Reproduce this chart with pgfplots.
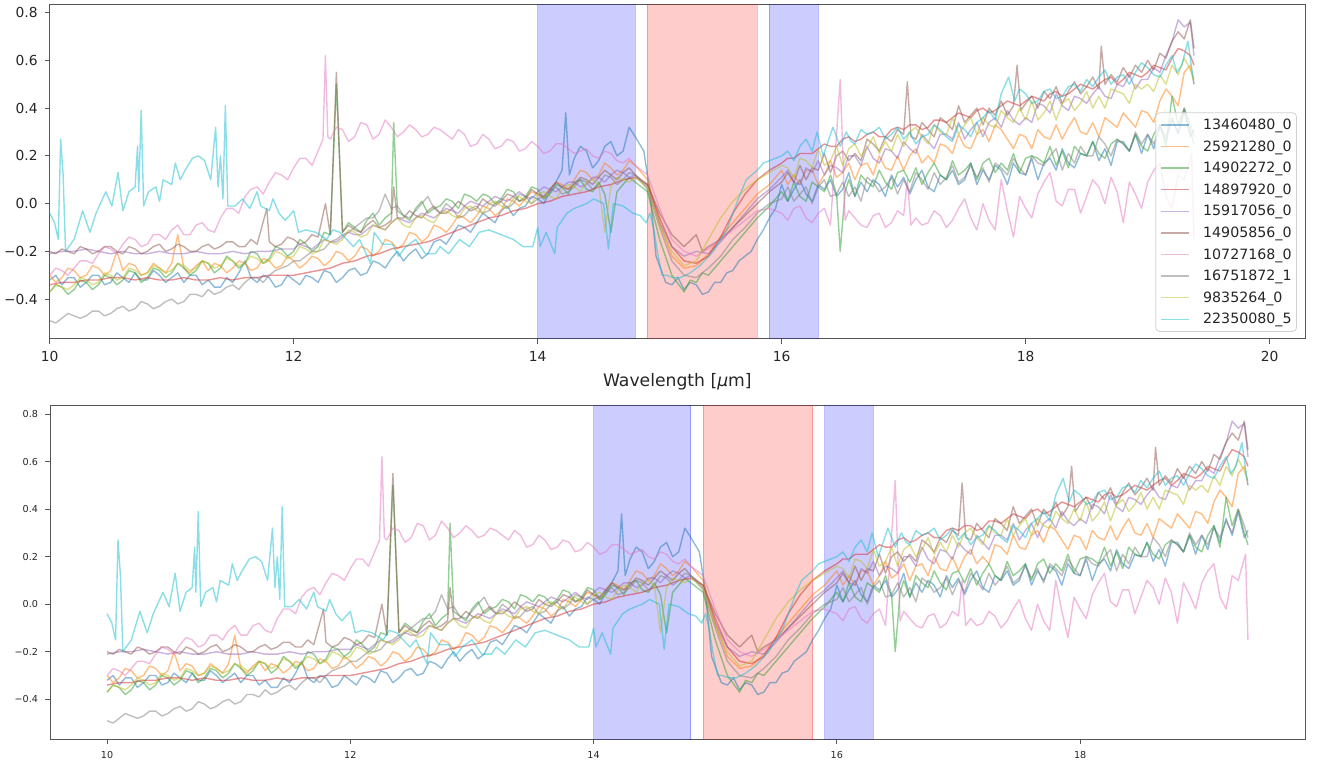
\documentclass[border=0pt]{standalone}
\usepackage{fontspec}
\setmainfont{DejaVu Sans}
\usepackage{pgfplots}
\usepackage{pgfplotstable}
\pgfplotsset{compat=1.18}
\definecolor{c0}{HTML}{1F77B4}
\definecolor{c1}{HTML}{FF7F0E}
\definecolor{c2}{HTML}{2CA02C}
\definecolor{c3}{HTML}{D62728}
\definecolor{c4}{HTML}{9467BD}
\definecolor{c5}{HTML}{8C564B}
\definecolor{c6}{HTML}{E377C2}
\definecolor{c7}{HTML}{7F7F7F}
\definecolor{c8}{HTML}{BCBD22}
\definecolor{c9}{HTML}{17BECF}
\definecolor{spine}{HTML}{555555}

% 13460480_0
\pgfplotstableread[row sep=\\]{x y\\
10.0 -0.32\\10.05 -0.30\\10.1 -0.34\\10.15 -0.31\\10.2 -0.31\\10.25 -0.35\\10.3 -0.33\\10.35 -0.30\\10.4 -0.30\\10.45 -0.34\\10.5 -0.33\\10.55 -0.29\\10.6 -0.31\\10.65 -0.33\\10.7 -0.29\\10.75 -0.32\\10.8 -0.32\\10.85 -0.28\\10.9 -0.30\\10.95 -0.33\\
11.0 -0.31\\11.05 -0.29\\11.1 -0.33\\11.15 -0.30\\11.2 -0.30\\11.25 -0.34\\11.3 -0.32\\11.35 -0.35\\11.4 -0.35\\11.45 -0.31\\11.5 -0.33\\11.55 -0.29\\11.6 -0.24\\11.65 -0.31\\11.7 -0.33\\11.75 -0.30\\11.8 -0.31\\11.85 -0.35\\11.9 -0.34\\11.95 -0.30\\
12.0 -0.32\\12.05 -0.34\\12.1 -0.30\\12.15 -0.31\\12.2 -0.33\\12.25 -0.28\\12.3 -0.29\\12.35 -0.33\\12.4 -0.31\\12.45 -0.28\\12.5 -0.27\\12.55 -0.30\\12.6 -0.29\\12.65 -0.24\\12.7 -0.25\\12.75 -0.27\\12.8 -0.23\\12.85 -0.20\\12.9 -0.24\\12.95 -0.21\\
13.0 -0.19\\13.05 -0.23\\13.1 -0.21\\13.15 -0.16\\13.2 -0.15\\13.25 -0.17\\13.3 -0.13\\13.35 -0.09\\13.4 -0.10\\13.45 -0.12\\13.5 -0.08\\13.55 -0.04\\13.6 -0.06\\13.65 -0.08\\13.7 -0.03\\13.75 -0.01\\13.8 -0.05\\13.85 -0.02\\13.9 -0.01\\13.95 0.03\\
14.0 0.02\\14.05 0.00\\14.1 0.05\\14.15 0.09\\14.2 0.14\\14.23 0.38\\14.26 0.12\\14.3 0.19\\14.35 0.24\\14.4 0.22\\14.45 0.15\\14.5 0.18\\14.55 0.24\\14.6 0.26\\14.65 0.20\\14.7 0.22\\14.75 0.32\\14.8 0.28\\14.87 0.22\\14.92 0.05\\
14.97 -0.22\\15.05 -0.33\\15.1 -0.34\\15.15 -0.31\\15.2 -0.36\\15.25 -0.33\\15.3 -0.34\\15.35 -0.38\\15.4 -0.37\\15.45 -0.33\\15.5 -0.33\\15.55 -0.29\\15.6 -0.28\\15.65 -0.24\\15.7 -0.22\\15.75 -0.20\\15.8 -0.15\\15.85 -0.11\\15.9 -0.06\\15.95 -0.02\\
16.0 0.08\\16.05 0.01\\16.1 0.06\\16.15 0.10\\16.2 0.04\\16.25 0.01\\16.3 0.08\\16.35 0.06\\16.4 0.10\\16.45 0.03\\16.5 0.06\\16.55 0.13\\16.6 0.03\\16.65 0.09\\16.7 0.05\\16.75 0.10\\16.8 0.08\\16.85 0.03\\16.9 0.12\\16.95 0.07\\
17.0 0.11\\17.05 0.04\\17.1 0.10\\17.15 0.14\\17.2 0.07\\17.25 0.05\\17.3 0.12\\17.35 0.10\\17.4 0.14\\17.45 0.08\\17.5 0.10\\17.55 0.17\\17.6 0.08\\17.65 0.14\\17.7 0.10\\17.75 0.16\\17.8 0.14\\17.85 0.08\\17.9 0.17\\17.95 0.13\\
18.0 0.12\\18.05 0.19\\18.1 0.10\\18.15 0.17\\18.2 0.19\\18.25 0.14\\18.3 0.23\\18.35 0.17\\18.4 0.15\\18.45 0.21\\18.5 0.20\\18.55 0.26\\18.6 0.18\\18.65 0.23\\18.7 0.16\\18.75 0.26\\18.8 0.26\\18.85 0.22\\18.9 0.29\\18.95 0.21\\
19.0 0.29\\19.05 0.23\\19.1 0.33\\19.15 0.26\\19.2 0.36\\19.25 0.29\\19.3 0.39\\19.35 0.28\\19.38 0.31\\
}\tA
% 25921280_0
\pgfplotstableread[row sep=\\]{x y\\
10.0 -0.30\\10.05 -0.33\\10.1 -0.31\\10.15 -0.27\\10.2 -0.28\\10.25 -0.31\\10.3 -0.30\\10.35 -0.26\\10.4 -0.27\\10.45 -0.30\\10.5 -0.28\\10.55 -0.20\\10.6 -0.28\\10.65 -0.25\\10.7 -0.26\\10.75 -0.30\\10.8 -0.29\\10.85 -0.25\\10.9 -0.27\\10.95 -0.29\\
11.0 -0.25\\11.05 -0.13\\11.1 -0.27\\11.15 -0.29\\11.2 -0.26\\11.25 -0.24\\11.3 -0.28\\11.35 -0.25\\11.4 -0.26\\11.45 -0.29\\11.5 -0.27\\11.55 -0.24\\11.6 -0.25\\11.65 -0.28\\11.7 -0.27\\11.75 -0.23\\11.8 -0.24\\11.85 -0.27\\11.9 -0.26\\11.95 -0.22\\
12.0 -0.24\\12.05 -0.27\\12.1 -0.25\\12.15 -0.22\\12.2 -0.23\\12.25 -0.26\\12.3 -0.24\\12.35 -0.20\\12.4 -0.21\\12.45 -0.24\\12.5 -0.22\\12.55 -0.18\\12.6 -0.19\\12.65 -0.22\\12.7 -0.20\\12.75 -0.15\\12.8 -0.16\\12.85 -0.19\\12.9 -0.17\\12.95 -0.12\\
13.0 -0.13\\13.05 -0.16\\13.1 -0.14\\13.15 -0.09\\13.2 -0.10\\13.25 -0.12\\13.3 -0.09\\13.35 -0.05\\13.4 -0.06\\13.45 -0.08\\13.5 -0.05\\13.55 -0.01\\13.6 -0.02\\13.65 -0.05\\13.7 -0.03\\13.75 0.02\\13.8 0.01\\13.85 -0.01\\13.9 0.02\\13.95 0.05\\
14.0 0.04\\14.05 0.02\\14.1 0.06\\14.15 0.09\\14.2 0.08\\14.25 0.06\\14.3 0.10\\14.35 0.14\\14.4 0.13\\14.45 0.10\\14.5 0.12\\14.55 0.17\\14.6 0.15\\14.65 0.12\\14.7 0.14\\14.75 0.18\\14.8 0.16\\14.9 0.10\\
15.0 -0.08\\15.1 -0.22\\15.2 -0.27\\15.3 -0.26\\15.4 -0.21\\15.5 -0.14\\15.6 -0.08\\15.7 -0.02\\15.8 0.04\\15.9 0.08\\
16.0 0.14\\16.05 0.08\\16.1 0.12\\16.15 0.08\\16.2 0.14\\16.25 0.14\\16.3 0.08\\16.35 0.12\\16.4 0.18\\16.45 0.11\\16.5 0.13\\16.55 0.17\\16.6 0.10\\16.65 0.16\\16.7 0.17\\16.75 0.12\\16.8 0.20\\16.85 0.15\\16.9 0.14\\16.95 0.20\\
17.0 0.14\\17.05 0.20\\17.1 0.23\\17.15 0.17\\17.2 0.20\\17.25 0.17\\17.3 0.25\\17.35 0.24\\17.4 0.21\\17.45 0.29\\17.5 0.24\\17.55 0.23\\17.6 0.29\\17.65 0.31\\17.7 0.26\\17.75 0.33\\17.8 0.31\\17.85 0.27\\17.9 0.23\\17.95 0.29\\
18.0 0.28\\18.05 0.23\\18.1 0.31\\18.15 0.28\\18.2 0.27\\18.25 0.33\\18.3 0.27\\18.35 0.32\\18.4 0.36\\18.45 0.30\\18.5 0.29\\18.55 0.34\\18.6 0.28\\18.65 0.36\\18.7 0.34\\18.75 0.32\\18.8 0.38\\18.85 0.35\\18.9 0.32\\18.95 0.39\\
19.0 0.38\\19.05 0.34\\19.1 0.43\\19.15 0.48\\19.2 0.45\\19.25 0.41\\19.3 0.55\\19.35 0.58\\19.38 0.50\\
}\tB
% 14902272_0
\pgfplotstableread[row sep=\\]{x y\\
10.0 -0.37\\10.05 -0.34\\10.1 -0.35\\10.15 -0.38\\10.2 -0.36\\10.25 -0.32\\10.3 -0.33\\10.35 -0.36\\10.4 -0.34\\10.45 -0.30\\10.5 -0.31\\10.55 -0.34\\10.6 -0.32\\10.65 -0.28\\10.7 -0.29\\10.75 -0.33\\10.8 -0.31\\10.85 -0.27\\10.9 -0.28\\10.95 -0.31\\
11.0 -0.29\\11.05 -0.25\\11.1 -0.27\\11.15 -0.30\\11.2 -0.28\\11.25 -0.24\\11.3 -0.25\\11.35 -0.29\\11.4 -0.27\\11.45 -0.22\\11.5 -0.24\\11.55 -0.27\\11.6 -0.25\\11.65 -0.20\\11.7 -0.21\\11.75 -0.25\\11.8 -0.23\\11.85 -0.18\\11.9 -0.19\\11.95 -0.22\\
12.0 -0.20\\12.05 -0.15\\12.1 -0.17\\12.15 -0.20\\12.2 -0.18\\12.25 -0.12\\12.3 -0.13\\12.35 0.50\\12.4 -0.12\\12.45 -0.08\\12.5 -0.10\\12.55 -0.12\\12.6 -0.07\\12.65 -0.04\\12.7 -0.09\\12.75 -0.06\\12.8 -0.04\\12.82 0.34\\12.85 -0.03\\12.9 -0.05\\12.95 -0.07\\
13.0 -0.02\\13.05 0.01\\13.1 -0.04\\13.15 -0.02\\13.2 -0.01\\13.25 0.02\\13.3 0.01\\13.35 -0.02\\13.4 0.04\\13.45 0.03\\13.5 0.01\\13.55 0.04\\13.6 0.03\\13.65 0.00\\13.7 0.02\\13.75 0.06\\13.8 0.05\\13.85 0.01\\13.9 0.03\\13.95 0.07\\
14.0 0.06\\14.05 0.02\\14.1 0.04\\14.15 0.08\\14.2 0.07\\14.25 0.04\\14.3 0.09\\14.35 0.10\\14.4 0.06\\14.45 0.05\\14.5 0.09\\14.55 0.04\\14.6 -0.12\\14.65 0.05\\14.7 0.08\\14.75 0.11\\14.8 0.09\\14.9 0.05\\
15.0 -0.15\\15.1 -0.30\\15.2 -0.37\\15.25 -0.32\\15.3 -0.33\\15.35 -0.29\\15.4 -0.30\\15.5 -0.24\\15.6 -0.18\\15.7 -0.12\\15.8 -0.06\\15.9 -0.01\\
16.0 0.05\\16.05 0.01\\16.1 0.09\\16.15 0.03\\16.2 0.01\\16.25 0.09\\16.3 0.07\\16.35 0.05\\16.4 0.12\\16.45 0.04\\16.48 -0.20\\16.52 0.05\\16.55 0.10\\16.6 0.03\\16.65 0.12\\16.7 0.09\\16.75 0.07\\16.8 0.14\\16.85 0.09\\16.9 0.06\\16.95 0.13\\
17.0 0.14\\17.05 0.09\\17.1 0.15\\17.15 0.08\\17.2 0.13\\17.25 0.17\\17.3 0.12\\17.35 0.10\\17.4 0.18\\17.45 0.12\\17.5 0.14\\17.55 0.17\\17.6 0.10\\17.65 0.17\\17.7 0.19\\17.75 0.13\\17.8 0.17\\17.85 0.14\\17.9 0.21\\17.95 0.13\\
18.0 0.19\\18.05 0.20\\18.1 0.19\\18.15 0.17\\18.2 0.24\\18.25 0.16\\18.3 0.22\\18.35 0.15\\18.4 0.24\\18.45 0.21\\18.5 0.20\\18.55 0.26\\18.6 0.21\\18.65 0.19\\18.7 0.25\\18.75 0.27\\18.8 0.25\\18.85 0.22\\18.9 0.29\\18.95 0.24\\
19.0 0.22\\19.05 0.29\\19.1 0.33\\19.15 0.24\\19.2 0.45\\19.25 0.33\\19.3 0.40\\19.35 0.30\\19.38 0.25\\
}\tC
% 14897920_0
\pgfplotstableread[row sep=\\]{x y\\
10.0 -0.34\\10.1 -0.33\\10.2 -0.33\\10.3 -0.32\\10.4 -0.32\\10.5 -0.31\\10.6 -0.31\\10.7 -0.32\\10.8 -0.31\\10.9 -0.32\\
11.0 -0.32\\11.1 -0.31\\11.2 -0.32\\11.3 -0.32\\11.4 -0.31\\11.5 -0.32\\11.6 -0.31\\11.7 -0.31\\11.8 -0.30\\11.9 -0.30\\
12.0 -0.30\\12.1 -0.29\\12.2 -0.28\\12.3 -0.27\\12.4 -0.25\\12.5 -0.24\\12.6 -0.22\\12.7 -0.21\\12.8 -0.19\\12.9 -0.18\\
13.0 -0.17\\13.1 -0.16\\13.2 -0.14\\13.3 -0.12\\13.4 -0.10\\13.5 -0.08\\13.6 -0.06\\13.7 -0.05\\13.8 -0.03\\13.9 -0.02\\
14.0 0.00\\14.1 0.01\\14.2 0.03\\14.3 0.04\\14.4 0.05\\14.5 0.07\\14.6 0.08\\14.7 0.10\\14.8 0.11\\14.9 0.08\\
15.0 -0.06\\15.1 -0.18\\15.2 -0.24\\15.3 -0.25\\15.4 -0.22\\15.5 -0.14\\15.6 -0.04\\15.7 0.04\\15.8 0.10\\15.9 0.14\\
16.0 0.17\\16.05 0.19\\16.1 0.19\\16.15 0.21\\16.2 0.21\\16.25 0.21\\16.3 0.23\\16.35 0.25\\16.4 0.24\\16.45 0.24\\16.5 0.27\\16.55 0.28\\16.6 0.26\\16.65 0.27\\16.7 0.29\\16.75 0.30\\16.8 0.28\\16.85 0.28\\16.9 0.31\\16.95 0.32\\
17.0 0.31\\17.05 0.33\\17.1 0.33\\17.15 0.31\\17.2 0.32\\17.25 0.35\\17.3 0.35\\17.35 0.34\\17.4 0.36\\17.45 0.38\\17.5 0.37\\17.55 0.36\\17.6 0.39\\17.65 0.40\\17.7 0.38\\17.75 0.39\\17.8 0.41\\17.85 0.43\\17.9 0.42\\17.95 0.41\\
18.0 0.43\\18.05 0.45\\18.1 0.44\\18.15 0.43\\18.2 0.46\\18.25 0.47\\18.3 0.45\\18.35 0.46\\18.4 0.48\\18.45 0.50\\18.5 0.49\\18.55 0.48\\18.6 0.50\\18.65 0.52\\18.7 0.53\\18.75 0.50\\18.8 0.52\\18.85 0.55\\18.9 0.54\\18.95 0.53\\
19.0 0.55\\19.05 0.58\\19.1 0.57\\19.15 0.56\\19.2 0.61\\19.25 0.65\\19.3 0.64\\19.35 0.62\\19.38 0.58\\
}\tD
% 15917056_0
\pgfplotstableread[row sep=\\]{x y\\
10.0 -0.21\\10.1 -0.20\\10.2 -0.20\\10.3 -0.19\\10.4 -0.20\\10.5 -0.21\\10.6 -0.20\\10.7 -0.21\\10.8 -0.21\\10.9 -0.20\\
11.0 -0.21\\11.1 -0.21\\11.2 -0.20\\11.3 -0.21\\11.4 -0.21\\11.5 -0.20\\11.6 -0.21\\11.7 -0.20\\11.8 -0.20\\11.9 -0.19\\
12.0 -0.19\\12.05 -0.17\\12.1 -0.18\\12.15 -0.19\\12.2 -0.17\\12.25 -0.15\\12.3 -0.16\\12.35 -0.16\\12.4 -0.14\\12.45 -0.12\\12.5 -0.13\\12.55 -0.13\\12.6 -0.11\\12.65 -0.09\\12.7 -0.10\\12.75 -0.11\\12.8 -0.08\\12.85 -0.06\\12.9 -0.07\\12.95 -0.08\\
13.0 -0.06\\13.05 -0.04\\13.1 -0.05\\13.15 -0.06\\13.2 -0.04\\13.25 -0.02\\13.3 -0.03\\13.35 -0.04\\13.4 -0.01\\13.45 0.01\\13.5 0.00\\13.55 -0.01\\13.6 0.01\\13.65 0.03\\13.7 0.02\\13.75 0.01\\13.8 0.03\\13.85 0.05\\13.9 0.03\\13.95 0.02\\
14.0 0.05\\14.05 0.07\\14.1 0.06\\14.15 0.05\\14.2 0.07\\14.25 0.09\\14.3 0.09\\14.35 0.07\\14.4 0.08\\14.45 0.11\\14.5 0.11\\14.55 0.09\\14.6 0.12\\14.65 0.14\\14.7 0.13\\14.75 0.11\\14.8 0.12\\14.9 0.07\\
15.0 -0.08\\15.1 -0.18\\15.2 -0.22\\15.3 -0.20\\15.4 -0.21\\15.5 -0.16\\15.6 -0.10\\15.7 -0.04\\15.8 0.02\\15.9 0.06\\
16.0 0.11\\16.05 0.14\\16.1 0.09\\16.15 0.08\\16.2 0.15\\16.25 0.13\\16.3 0.18\\16.35 0.12\\16.4 0.16\\16.45 0.15\\16.5 0.13\\16.55 0.20\\16.6 0.20\\16.65 0.16\\16.7 0.24\\16.75 0.19\\16.8 0.17\\16.85 0.23\\16.9 0.22\\16.95 0.19\\
17.0 0.26\\17.05 0.23\\17.1 0.21\\17.15 0.29\\17.2 0.26\\17.25 0.23\\17.3 0.29\\17.35 0.29\\17.4 0.27\\17.45 0.34\\17.5 0.27\\17.55 0.31\\17.6 0.34\\17.65 0.28\\17.7 0.34\\17.75 0.36\\17.8 0.32\\17.85 0.39\\17.9 0.35\\17.95 0.33\\
18.0 0.36\\18.05 0.34\\18.1 0.42\\18.15 0.41\\18.2 0.38\\18.25 0.46\\18.3 0.41\\18.35 0.39\\18.4 0.45\\18.45 0.44\\18.5 0.42\\18.55 0.46\\18.6 0.49\\18.65 0.45\\18.7 0.44\\18.75 0.50\\18.8 0.49\\18.85 0.54\\18.9 0.48\\18.95 0.52\\
19.0 0.52\\19.05 0.57\\19.1 0.55\\19.15 0.62\\19.2 0.68\\19.25 0.77\\19.3 0.74\\19.35 0.76\\19.38 0.62\\
}\tE
% 14905856_0
\pgfplotstableread[row sep=\\]{x y\\
10.0 -0.20\\10.05 -0.21\\10.1 -0.19\\10.15 -0.20\\10.2 -0.21\\10.25 -0.18\\10.3 -0.19\\10.35 -0.21\\10.4 -0.20\\10.45 -0.18\\10.5 -0.18\\10.55 -0.20\\10.6 -0.21\\10.65 -0.18\\10.7 -0.19\\10.75 -0.21\\10.8 -0.20\\10.85 -0.18\\10.9 -0.17\\10.95 -0.20\\
11.0 -0.19\\11.05 -0.17\\11.1 -0.18\\11.15 -0.20\\11.2 -0.20\\11.25 -0.18\\11.3 -0.17\\11.35 -0.19\\11.4 -0.18\\11.45 -0.16\\11.5 -0.16\\11.55 -0.18\\11.6 -0.18\\11.65 -0.15\\11.7 -0.17\\11.78 -0.02\\11.8 -0.16\\11.85 -0.18\\11.9 -0.17\\11.95 -0.14\\
12.0 -0.15\\12.05 -0.17\\12.1 -0.16\\12.15 -0.13\\12.2 -0.14\\12.26 0.00\\12.3 -0.13\\12.35 0.55\\12.4 -0.12\\12.45 -0.09\\12.5 -0.11\\12.55 -0.12\\12.6 -0.09\\12.65 -0.07\\12.7 -0.10\\12.75 -0.09\\12.8 -0.07\\12.82 0.07\\12.85 -0.06\\12.9 -0.06\\12.95 -0.03\\
13.0 -0.05\\13.05 -0.06\\13.1 -0.03\\13.15 -0.01\\13.2 -0.04\\13.25 -0.04\\13.3 -0.02\\13.35 0.01\\13.4 -0.01\\13.45 -0.03\\13.5 -0.02\\13.55 0.02\\13.6 0.00\\13.65 -0.01\\13.7 0.01\\13.75 0.04\\13.8 0.03\\13.85 0.01\\13.9 0.02\\13.95 0.06\\
14.0 0.04\\14.05 0.03\\14.1 0.06\\14.15 0.09\\14.2 0.07\\14.25 0.06\\14.3 0.08\\14.35 0.11\\14.4 0.10\\14.45 0.08\\14.5 0.11\\14.55 0.14\\14.6 0.12\\14.65 0.10\\14.7 0.13\\14.75 0.15\\14.8 0.12\\14.9 0.08\\
15.0 -0.04\\15.1 -0.13\\15.2 -0.18\\15.3 -0.13\\15.35 -0.20\\15.4 -0.18\\15.5 -0.15\\15.6 -0.10\\15.7 -0.05\\15.8 0.00\\15.9 0.05\\
16.0 0.09\\16.05 0.13\\16.1 0.09\\16.15 0.16\\16.2 0.10\\16.25 0.15\\16.3 0.14\\16.35 0.21\\16.4 0.13\\16.45 0.20\\16.5 0.22\\16.55 0.18\\16.6 0.21\\16.65 0.18\\16.7 0.27\\16.75 0.25\\16.8 0.22\\16.85 0.28\\16.9 0.26\\16.95 0.31\\
17.0 0.29\\17.03 0.51\\17.06 0.28\\17.1 0.27\\17.15 0.34\\17.2 0.31\\17.25 0.28\\17.3 0.36\\17.35 0.34\\17.4 0.31\\17.45 0.41\\17.5 0.34\\17.55 0.37\\17.6 0.40\\17.65 0.33\\17.7 0.40\\17.75 0.37\\17.8 0.43\\17.85 0.37\\17.9 0.41\\17.93 0.58\\17.96 0.39\\
18.0 0.42\\18.05 0.45\\18.1 0.40\\18.15 0.47\\18.2 0.44\\18.25 0.49\\18.3 0.42\\18.35 0.47\\18.4 0.51\\18.45 0.46\\18.5 0.49\\18.55 0.53\\18.6 0.48\\18.62 0.66\\18.65 0.50\\18.7 0.54\\18.75 0.51\\18.8 0.57\\18.85 0.53\\18.9 0.58\\18.95 0.55\\
19.0 0.60\\19.05 0.56\\19.1 0.63\\19.15 0.61\\19.2 0.68\\19.25 0.72\\19.3 0.69\\19.35 0.77\\19.38 0.65\\
}\tF
% 10727168_0
\pgfplotstableread[row sep=\\]{x y\\
10.0 -0.30\\10.05 -0.27\\10.1 -0.28\\10.15 -0.30\\10.2 -0.27\\10.25 -0.24\\10.3 -0.24\\10.35 -0.25\\10.4 -0.21\\10.45 -0.18\\10.5 -0.19\\10.55 -0.21\\10.6 -0.17\\10.65 -0.14\\10.7 -0.15\\10.75 -0.18\\10.8 -0.17\\10.85 -0.13\\10.9 -0.13\\10.95 -0.15\\
11.0 -0.11\\11.05 -0.09\\11.1 -0.13\\11.15 -0.13\\11.2 -0.09\\11.25 -0.08\\11.3 -0.11\\11.35 -0.12\\11.4 -0.06\\11.45 -0.02\\11.5 -0.02\\11.55 -0.04\\11.6 0.03\\11.65 0.06\\11.7 0.07\\11.75 0.04\\11.8 0.09\\11.85 0.13\\11.9 0.12\\11.95 0.10\\
12.0 0.15\\12.05 0.19\\12.1 0.19\\12.15 0.16\\12.2 0.22\\12.24 0.27\\12.26 0.62\\12.28 0.28\\12.3 0.27\\12.35 0.32\\12.4 0.31\\12.45 0.26\\12.5 0.28\\12.55 0.34\\12.6 0.33\\12.65 0.27\\12.7 0.29\\12.75 0.35\\12.8 0.32\\12.85 0.28\\12.9 0.30\\12.95 0.33\\
13.0 0.31\\13.05 0.28\\13.1 0.29\\13.15 0.32\\13.2 0.31\\13.25 0.29\\13.3 0.27\\13.35 0.31\\13.4 0.29\\13.45 0.24\\13.5 0.25\\13.55 0.29\\13.6 0.27\\13.65 0.23\\13.7 0.24\\13.75 0.27\\13.8 0.26\\13.85 0.22\\13.9 0.23\\13.95 0.26\\
14.0 0.24\\14.05 0.21\\14.1 0.22\\14.15 0.25\\14.2 0.25\\14.25 0.23\\14.3 0.21\\14.35 0.22\\14.4 0.23\\14.45 0.20\\14.5 0.19\\14.55 0.22\\14.6 0.21\\14.65 0.18\\14.7 0.17\\14.75 0.19\\14.8 0.16\\14.85 0.14\\14.9 0.12\\
15.0 -0.02\\15.1 -0.15\\15.2 -0.20\\15.3 -0.22\\15.4 -0.19\\15.5 -0.15\\15.6 -0.11\\15.7 -0.07\\15.8 -0.03\\15.9 -0.02\\
16.0 -0.04\\16.05 -0.07\\16.1 -0.02\\16.15 -0.01\\16.2 -0.06\\16.25 -0.08\\16.3 -0.04\\16.35 -0.02\\16.4 -0.09\\16.48 0.52\\16.52 -0.07\\16.55 -0.03\\16.6 -0.06\\16.65 -0.09\\16.7 -0.10\\16.75 -0.05\\16.8 -0.04\\16.85 -0.10\\16.9 -0.08\\16.95 -0.03\\
17.0 -0.05\\17.03 0.10\\17.06 -0.09\\17.1 -0.06\\17.15 -0.09\\17.2 -0.08\\17.25 -0.03\\17.3 -0.05\\17.35 -0.10\\17.4 -0.07\\17.45 -0.02\\17.5 0.02\\17.55 -0.06\\17.6 -0.11\\17.65 0.00\\17.7 -0.07\\17.75 -0.11\\17.8 0.10\\17.85 -0.03\\17.9 -0.14\\17.95 0.03\\
18.0 -0.02\\18.05 -0.06\\18.1 0.04\\18.15 0.09\\18.2 0.13\\18.25 0.01\\18.3 -0.01\\18.35 0.06\\18.4 0.06\\18.45 -0.04\\18.5 0.03\\18.55 0.10\\18.6 0.07\\18.65 0.00\\18.7 0.11\\18.75 0.05\\18.8 -0.08\\18.85 0.09\\18.9 0.04\\18.95 -0.02\\
19.0 0.09\\19.05 0.14\\19.1 0.17\\19.15 0.03\\19.2 -0.02\\19.25 0.12\\19.3 0.10\\19.36 0.21\\19.38 -0.15\\
}\tG
% 16751872_1
\pgfplotstableread[row sep=\\]{x y\\
10.0 -0.49\\10.05 -0.50\\10.1 -0.48\\10.15 -0.46\\10.2 -0.47\\10.25 -0.48\\10.3 -0.47\\10.35 -0.45\\10.4 -0.45\\10.45 -0.47\\10.5 -0.46\\10.55 -0.44\\10.6 -0.43\\10.65 -0.45\\10.7 -0.44\\10.75 -0.41\\10.8 -0.42\\10.85 -0.44\\10.9 -0.43\\10.95 -0.41\\
11.0 -0.40\\11.05 -0.42\\11.1 -0.41\\11.15 -0.38\\11.2 -0.38\\11.25 -0.39\\11.3 -0.36\\11.35 -0.38\\11.4 -0.37\\11.45 -0.35\\11.5 -0.34\\11.55 -0.36\\11.6 -0.33\\11.65 -0.31\\11.7 -0.31\\11.75 -0.33\\11.8 -0.30\\11.85 -0.28\\11.9 -0.27\\11.95 -0.26\\
12.0 -0.24\\12.05 -0.24\\12.1 -0.22\\12.15 -0.20\\12.2 -0.20\\12.25 -0.19\\12.3 -0.16\\12.35 -0.15\\12.4 -0.13\\12.45 -0.12\\12.5 -0.10\\12.55 -0.08\\12.6 -0.06\\12.65 -0.06\\12.7 -0.03\\12.75 0.04\\12.8 -0.02\\12.85 -0.01\\12.9 -0.05\\12.95 -0.06\\
13.0 -0.03\\13.05 0.00\\13.1 0.03\\13.15 -0.02\\13.2 -0.04\\13.25 0.00\\13.3 -0.02\\13.35 -0.06\\13.4 -0.05\\13.45 -0.02\\13.5 -0.01\\13.55 -0.04\\13.6 -0.03\\13.65 0.00\\13.7 0.01\\13.75 -0.02\\13.8 0.00\\13.85 0.04\\13.9 0.03\\13.95 0.00\\
14.0 0.02\\14.05 0.03\\14.1 0.05\\14.15 0.07\\14.2 0.04\\14.25 0.05\\14.3 0.07\\14.35 0.10\\14.4 0.09\\14.45 0.06\\14.5 0.08\\14.55 0.12\\14.6 0.11\\14.65 0.08\\14.7 0.10\\14.75 0.13\\14.8 0.12\\14.9 0.06\\
15.0 -0.10\\15.1 -0.24\\15.2 -0.30\\15.3 -0.31\\15.4 -0.27\\15.5 -0.22\\15.6 -0.15\\15.7 -0.10\\15.8 -0.04\\15.9 0.00\\
16.0 0.02\\16.05 0.07\\16.1 0.01\\16.15 0.04\\16.2 0.07\\16.25 0.00\\16.3 0.07\\16.35 0.10\\16.4 0.03\\16.45 0.04\\16.5 0.09\\16.55 0.03\\16.6 0.07\\16.65 0.01\\16.7 0.11\\16.75 0.09\\16.8 0.05\\16.85 0.07\\16.9 0.11\\16.95 0.04\\
17.0 0.10\\17.05 0.05\\17.1 0.13\\17.15 0.10\\17.2 0.06\\17.25 0.13\\17.3 0.08\\17.35 0.11\\17.4 0.16\\17.45 0.09\\17.5 0.11\\17.55 0.16\\17.6 0.11\\17.65 0.15\\17.7 0.09\\17.75 0.17\\17.8 0.15\\17.85 0.12\\17.9 0.19\\17.95 0.15\\
18.0 0.12\\18.05 0.20\\18.1 0.17\\18.15 0.16\\18.2 0.20\\18.25 0.23\\18.3 0.14\\18.35 0.21\\18.4 0.17\\18.45 0.24\\18.5 0.20\\18.55 0.20\\18.6 0.28\\18.65 0.25\\18.7 0.20\\18.75 0.27\\18.8 0.25\\18.85 0.22\\18.9 0.30\\18.95 0.25\\
19.0 0.29\\19.05 0.25\\19.1 0.32\\19.15 0.28\\19.2 0.35\\19.25 0.30\\19.3 0.40\\19.35 0.33\\19.38 0.28\\
}\tH
% 9835264_0
\pgfplotstableread[row sep=\\]{x y\\
10.0 -0.37\\10.05 -0.34\\10.1 -0.35\\10.15 -0.36\\10.2 -0.34\\10.25 -0.31\\10.3 -0.32\\10.35 -0.34\\10.4 -0.33\\10.45 -0.29\\10.5 -0.30\\10.55 -0.32\\10.6 -0.31\\10.65 -0.27\\10.7 -0.28\\10.75 -0.30\\10.8 -0.29\\10.85 -0.26\\10.9 -0.27\\10.95 -0.29\\
11.0 -0.28\\11.05 -0.25\\11.1 -0.26\\11.15 -0.28\\11.2 -0.27\\11.25 -0.24\\11.3 -0.25\\11.35 -0.27\\11.4 -0.26\\11.45 -0.23\\11.5 -0.24\\11.55 -0.26\\11.6 -0.25\\11.65 -0.22\\11.7 -0.23\\11.75 -0.25\\11.8 -0.24\\11.85 -0.20\\11.9 -0.21\\11.95 -0.23\\
12.0 -0.22\\12.05 -0.18\\12.1 -0.19\\12.15 -0.21\\12.2 -0.20\\12.25 -0.15\\12.3 -0.16\\12.35 -0.17\\12.4 -0.15\\12.45 -0.11\\12.5 -0.12\\12.55 -0.14\\12.6 -0.13\\12.65 -0.09\\12.7 -0.10\\12.75 -0.11\\12.8 -0.08\\12.85 -0.06\\12.9 -0.09\\12.95 -0.10\\
13.0 -0.06\\13.05 -0.05\\13.1 -0.07\\13.15 -0.08\\13.2 -0.04\\13.25 -0.03\\13.3 -0.05\\13.35 -0.06\\13.4 -0.02\\13.45 -0.01\\13.5 -0.03\\13.55 -0.04\\13.6 0.00\\13.65 0.01\\13.7 -0.01\\13.75 -0.02\\13.8 0.02\\13.85 0.03\\13.9 0.01\\13.95 0.00\\
14.0 0.04\\14.05 0.05\\14.1 0.03\\14.15 0.02\\14.2 0.06\\14.25 0.08\\14.3 0.07\\14.35 0.05\\14.4 0.09\\14.45 0.10\\14.5 0.08\\14.55 -0.12\\14.6 0.07\\14.65 0.11\\14.7 0.10\\14.75 0.09\\14.8 0.11\\14.9 0.07\\
15.0 -0.09\\15.1 -0.20\\15.2 -0.26\\15.3 -0.24\\15.4 -0.15\\15.5 -0.06\\15.6 0.01\\15.7 0.06\\15.8 0.10\\15.9 0.13\\
16.0 0.16\\16.05 0.15\\16.1 0.11\\16.15 0.19\\16.2 0.18\\16.25 0.15\\16.3 0.23\\16.35 0.16\\16.4 0.18\\16.45 0.24\\16.5 0.16\\16.55 0.23\\16.6 0.25\\16.65 0.20\\16.7 0.23\\16.75 0.28\\16.8 0.21\\16.85 0.26\\16.9 0.22\\16.95 0.29\\
17.0 0.24\\17.05 0.30\\17.1 0.32\\17.15 0.28\\17.2 0.25\\17.25 0.33\\17.3 0.30\\17.35 0.29\\17.4 0.36\\17.45 0.29\\17.5 0.33\\17.55 0.36\\17.6 0.29\\17.65 0.36\\17.7 0.33\\17.75 0.32\\17.8 0.39\\17.85 0.36\\17.9 0.34\\17.95 0.40\\
18.0 0.35\\18.05 0.43\\18.1 0.35\\18.15 0.38\\18.2 0.43\\18.25 0.35\\18.3 0.42\\18.35 0.44\\18.4 0.39\\18.45 0.42\\18.5 0.47\\18.55 0.40\\18.6 0.45\\18.65 0.40\\18.7 0.48\\18.75 0.47\\18.8 0.46\\18.85 0.42\\18.9 0.50\\18.95 0.48\\
19.0 0.50\\19.05 0.47\\19.1 0.54\\19.15 0.50\\19.2 0.58\\19.25 0.54\\19.3 0.61\\19.35 0.56\\19.38 0.52\\
}\tI
% 22350080_5
\pgfplotstableread[row sep=\\]{x y\\
10.0 -0.04\\10.04 -0.08\\10.07 -0.15\\10.09 0.27\\10.11 0.12\\10.13 -0.20\\10.2 -0.15\\10.27 -0.03\\10.33 -0.12\\10.38 -0.04\\10.46 0.05\\10.51 -0.01\\10.56 0.13\\10.6 -0.03\\10.65 0.05\\
10.7 0.07\\10.72 0.24\\10.73 0.05\\10.75 0.39\\10.77 -0.01\\10.81 0.05\\10.87 0.07\\10.9 0.01\\10.93 0.10\\
11.0 0.08\\11.03 0.17\\11.07 0.10\\11.11 0.14\\11.17 0.19\\11.22 0.20\\11.27 0.18\\11.32 0.10\\11.36 0.32\\11.38 0.07\\11.40 0.20\\11.42 0.02\\11.44 0.41\\11.46 -0.01\\11.52 -0.01\\11.58 0.02\\11.64 -0.02\\11.70 0.05\\11.73 -0.01\\11.8 -0.03\\11.83 0.02\\11.88 -0.04\\11.93 -0.07\\
12.0 -0.03\\12.04 -0.12\\12.1 -0.11\\12.18 -0.12\\12.27 -0.15\\12.32 -0.11\\12.38 -0.12\\12.49 -0.18\\12.54 -0.15\\12.63 -0.25\\12.66 -0.12\\12.73 -0.17\\12.81 -0.17\\12.86 -0.22\\12.92 -0.18\\
13.0 -0.15\\13.08 -0.21\\13.16 -0.21\\13.2 -0.18\\13.27 -0.21\\13.36 -0.15\\13.44 -0.18\\13.52 -0.12\\13.6 -0.11\\13.7 -0.13\\13.8 -0.15\\13.88 -0.18\\13.96 -0.18\\
14.0 -0.10\\14.02 -0.18\\14.07 -0.12\\14.14 -0.21\\14.16 -0.10\\14.24 -0.04\\14.3 -0.02\\14.35 -0.01\\14.4 0.00\\14.46 0.02\\14.54 0.00\\14.58 -0.19\\14.62 0.00\\14.7 -0.01\\14.78 -0.04\\14.84 -0.05\\14.89 -0.08\\14.92 -0.04\\14.95 -0.10\\14.98 -0.20\\
15.02 -0.30\\15.06 -0.30\\15.11 -0.31\\15.17 -0.31\\15.25 -0.29\\15.33 -0.26\\15.44 -0.20\\15.55 -0.11\\15.66 0.04\\15.71 0.10\\15.8 0.14\\15.85 0.17\\15.9 0.18\\
16.0 0.20\\16.05 0.22\\16.1 0.18\\16.15 0.24\\16.2 0.27\\16.25 0.22\\16.29 0.30\\16.34 0.20\\16.38 0.26\\16.42 0.32\\16.48 0.24\\16.53 0.30\\16.57 0.26\\16.6 0.25\\16.65 0.31\\16.7 0.29\\16.75 0.30\\16.8 0.32\\16.85 0.27\\16.9 0.29\\16.95 0.32\\
17.0 0.27\\17.05 0.30\\17.1 0.25\\17.15 0.28\\17.2 0.29\\17.25 0.33\\17.3 0.31\\17.35 0.28\\17.4 0.26\\17.45 0.33\\17.5 0.31\\17.55 0.28\\17.6 0.34\\17.65 0.36\\17.7 0.39\\17.75 0.35\\17.8 0.46\\17.86 0.53\\17.91 0.43\\17.95 0.48\\
18.0 0.46\\18.05 0.42\\18.1 0.43\\18.15 0.47\\18.2 0.48\\18.25 0.44\\18.3 0.45\\18.35 0.49\\18.4 0.50\\18.45 0.47\\18.5 0.52\\18.55 0.49\\18.6 0.53\\18.65 0.56\\18.7 0.50\\18.75 0.53\\18.8 0.54\\18.85 0.50\\18.9 0.55\\18.95 0.59\\
19.0 0.57\\19.05 0.54\\19.1 0.53\\19.15 0.58\\19.2 0.62\\19.24 0.55\\19.28 0.58\\19.33 0.68\\19.38 0.50\\
}\tJ

\pgfplotsset{
  spec/.style={line width=0.7pt, opacity=0.5, no markers, line join=round},
  panel/.style={
    scale only axis, anchor=south west,
    ymin=-0.567, ymax=0.835,
    axis line style={draw=spine, line width=0.5pt},
    tick align=outside, xtick pos=bottom, ytick pos=left,
    major tick length=2.5pt,
    tick style={draw=spine, line width=0.45pt},
    ytick={-0.4,-0.2,0,0.2,0.4,0.6,0.8},
    yticklabels={−0.4,−0.2,0.0,0.2,0.4,0.6,0.8},
    clip=true,
  },
}
\newcommand{\spans}{%
  \addplot[fill=blue, fill opacity=0.2, draw=blue, draw opacity=0.25, forget plot] coordinates {(14,-1) (14,1) (14.8,1) (14.8,-1)} -- cycle;
  \addplot[fill=red, fill opacity=0.2, draw=red, draw opacity=0.25, forget plot] coordinates {(14.9,-1) (14.9,1) (15.8,1) (15.8,-1)} -- cycle;
  \addplot[fill=blue, fill opacity=0.2, draw=blue, draw opacity=0.25, forget plot] coordinates {(15.9,-1) (15.9,1) (16.3,1) (16.3,-1)} -- cycle;
}
\newcommand{\series}{%
  \addplot[spec, c0] table {\tA};
  \addplot[spec, c1] table {\tB};
  \addplot[spec, c2] table {\tC};
  \addplot[spec, c3] table {\tD};
  \addplot[spec, c4] table {\tE};
  \addplot[spec, c5] table {\tF};
  \addplot[spec, c6] table {\tG};
  \addplot[spec, c7] table {\tH};
  \addplot[spec, c8] table {\tI};
  \addplot[spec, c9] table {\tJ};
}

\begin{document}
\begin{tikzpicture}
\path[use as bounding box] (0,0) rectangle (660.5pt,380pt);
\begin{axis}[panel,
  at={(24.85pt,210.5pt)}, width=627.65pt, height=167.35pt,
  xmin=10, xmax=20.29,
  xtick={10,12,14,16,18,20},
  xticklabels={10,12,14,16,18,20},
  ticklabel style={font=\fontsize{6.9}{8}\selectfont, text=black!85},
  xlabel={Wavelength [{\itshape μ}m]},
  xlabel style={font=\fontsize{8.6}{10}\selectfont, text=black!85, yshift=1pt},
  legend cell align=left,
  legend image code/.code={\draw[#1] (0pt,0pt) -- (14pt,0pt);},
  legend style={at={(axis description cs:0.9936,0.021)}, anchor=south east,
    draw=black!18, rounded corners=2pt, fill=white, fill opacity=0.8, text opacity=1,
    font=\fontsize{7.1}{8}\selectfont, text=black!85,
    inner xsep=2.5pt, inner ysep=3pt, row sep=4.6pt,
    nodes={inner sep=0pt, text height=5.4pt, text depth=0.8pt},
    /tikz/every odd column/.append style={column sep=6.5pt},
    /tikz/every even column/.append style={column sep=0pt}},
]
\spans
\series
\legend{13460480\_0,25921280\_0,14902272\_0,14897920\_0,15917056\_0,14905856\_0,10727168\_0,16751872\_1,9835264\_0,22350080\_5}
\end{axis}
\begin{axis}[panel,
  at={(25pt,10.5pt)}, width=627.5pt, height=166.65pt,
  xmin=9.531, xmax=19.849,
  xtick={10,12,14,16,18},
  xticklabels={10,12,14,16,18},
  ticklabel style={font=\fontsize{4.8}{6}\selectfont, text=black!85},
]
\spans
\series
\end{axis}
\end{tikzpicture}
\end{document}
